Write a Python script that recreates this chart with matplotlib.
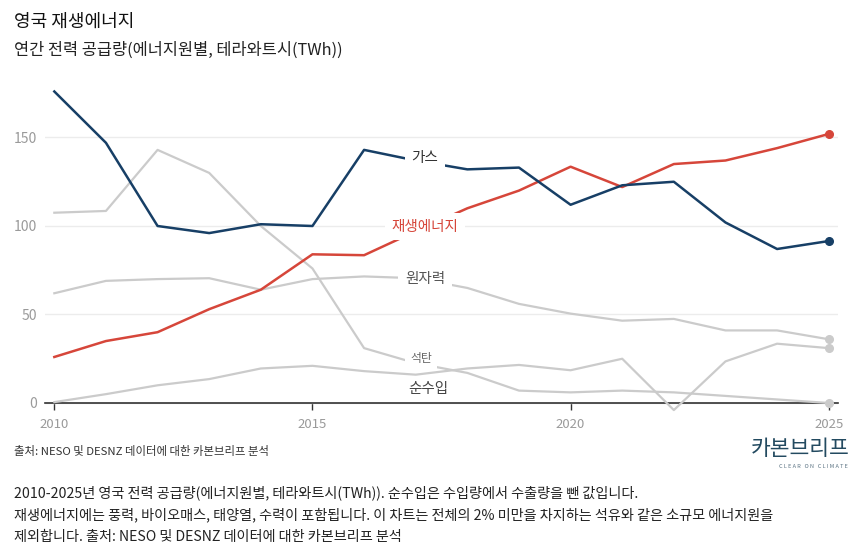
import matplotlib.pyplot as plt
import matplotlib.ticker as mticker

plt.rcParams['font.family'] = ['Noto Sans CJK KR', 'DejaVu Sans']

years = list(range(2010, 2026))
gas = [176, 147, 100, 96, 101, 100, 143, 137, 132, 133, 112, 123, 125, 102, 87, 91.5]
renewables = [26, 35, 40, 53, 64, 84, 83.5, 97, 110, 120, 133.5, 122, 135, 137, 144, 152]
nuclear = [62, 69, 70, 70.5, 64, 70, 71.5, 70.5, 65, 56, 50.5, 46.5, 47.5, 41, 41, 36]
coal = [107.5, 108.5, 143, 130, 100, 76, 31, 22.5, 17, 7, 6, 7, 6, 4, 2, 0]
net_imports = [0.5, 5, 10, 13.5, 19.5, 21, 18, 16, 19.5, 21.5, 18.5, 25, -4, 23.5, 33.5, 31]

series_names = ['가스', '재생에너지', '원자력', '석탄', '순수입']
x_ticks = [2010, 2015, 2020, 2025]
y_ticks = [0, 50, 100, 150]

GAS = '#173f66'
RED = '#d6463a'
GREY = '#cbcbcb'

fig = plt.figure(figsize=(8.61, 5.52), dpi=100)
ax = fig.add_axes([0.0523, 0.2507, 0.921, 0.5964])

# background grey series first, then highlighted ones on top
for vals in (coal, nuclear, net_imports):
    ax.plot(years, vals, color=GREY, lw=1.6, zorder=2)
    ax.plot(years[-1], vals[-1], 'o', color=GREY, ms=5.5, zorder=3)
ax.plot(years, renewables, color=RED, lw=1.8, zorder=4)
ax.plot(years[-1], renewables[-1], 'o', color=RED, ms=5.5, zorder=5)
ax.plot(years, gas, color=GAS, lw=1.8, zorder=4)
ax.plot(years[-1], gas[-1], 'o', color=GAS, ms=5.5, zorder=5)

# inline labels with white boxes that break the lines
box = dict(boxstyle='square,pad=0.45', fc='white', ec='none')
ax.text(2017.18, 138.5, series_names[0], color='#333333', fontsize=10.5,
        ha='center', va='center', bbox=box, zorder=6)
ax.text(2017.18, 99.5, series_names[1], color=RED, fontsize=10.5,
        ha='center', va='center', bbox=box, zorder=6)
ax.text(2017.18, 70, series_names[2], color='#555555', fontsize=10.5,
        ha='center', va='center', bbox=box, zorder=6)
ax.text(2017.1, 25, series_names[3], color='#666666', fontsize=8.5,
        ha='center', va='center', bbox=box, zorder=6)
ax.text(2017.24, 8, series_names[4], color='#444444', fontsize=10.5,
        ha='center', va='center', zorder=6,
        bbox=dict(boxstyle='square,pad=0.3', fc='white', ec='none'))

ax.set_xlim(2009.82, 2025.18)
ax.set_ylim(-6, 180)
ax.set_xticks(x_ticks)
ax.set_yticks(y_ticks)
ax.xaxis.set_major_formatter(mticker.FormatStrFormatter('%d'))

for s in ('top', 'right', 'left'):
    ax.spines[s].set_visible(False)
ax.spines['bottom'].set_position(('data', 0))
ax.spines['bottom'].set_color('#333333')
ax.spines['bottom'].set_linewidth(1.2)
ax.spines['bottom'].set_zorder(1)

ax.tick_params(axis='x', length=5, width=1, color='#333333', labelcolor='#9a9a9a',
               labelsize=9.5, pad=6)
ax.tick_params(axis='y', length=0, labelcolor='#9a9a9a', labelsize=10, pad=6)
ax.grid(axis='y', color='#ececec', lw=1, zorder=0)
ax.set_axisbelow(True)

# titles
fig.text(14 / 861, 1 - 22 / 552, '영국 재생에너지', fontsize=13, color='#111111',
         va='center', ha='left', fontweight='medium')
fig.text(14 / 861, 1 - 50 / 552, '연간 전력 공급량(에너지원별, 테라와트시(TWh))', fontsize=11.8,
         color='#222222', va='center', ha='left')

# source and logo
fig.text(14 / 861, 1 - 452 / 552, '출처: NESO 및 DESNZ 데이터에 대한 카본브리프 분석', fontsize=8.2,
         color='#333333', va='center', ha='left')
fig.text(849 / 861, 1 - 449 / 552, '카본브리프', fontsize=15.5, color='#234a60',
         va='center', ha='right')
fig.text(848 / 861, 1 - 467 / 552, 'C L E A R   O N   C L I M A T E', fontsize=4,
         color='#5b7383', va='center', ha='right')

# caption
caption = [
    '2010-2025년 영국 전력 공급량(에너지원별, 테라와트시(TWh)). 순수입은 수입량에서 수출량을 뺀 값입니다.',
    '재생에너지에는 풍력, 바이오매스, 태양열, 수력이 포함됩니다. 이 차트는 전체의 2% 미만을 차지하는 석유와 같은 소규모 에너지원을',
    '제외합니다. 출처: NESO 및 DESNZ 데이터에 대한 카본브리프 분석',
]
for i, line in enumerate(caption):
    fig.text(14 / 861, 1 - (493 + 22 * i) / 552, line, fontsize=10.2, color='#222222',
             va='center', ha='left')

fig.savefig('out.png', dpi=100)
